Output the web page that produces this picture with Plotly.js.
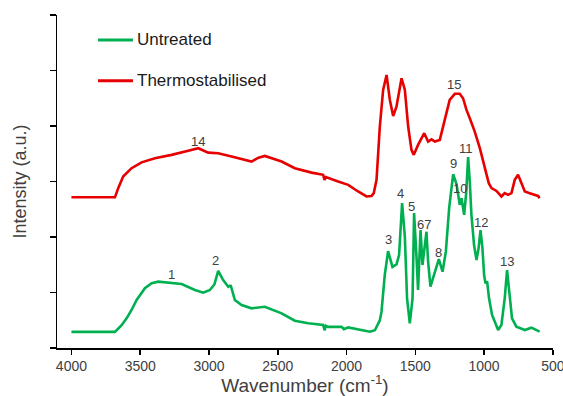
<!DOCTYPE html>
<html>
<head>
<meta charset="utf-8">
<script src="https://cdn.plot.ly/plotly-3.0.1.min.js"></script>
<style>html,body{margin:0;padding:0;background:#fff}#chart{width:563px;height:396px}</style>
</head>
<body>
<div id="chart"></div>
<script>
// Untreated (green) spectrum
const untreatedWn = [4000, 3684, 3635, 3599, 3563, 3526, 3466, 3417, 3369, 3284, 3199, 3102, 3042, 2993, 2960, 2933, 2897, 2860, 2850, 2841, 2812, 2763, 2690, 2594, 2472, 2376, 2279, 2170, 2160, 2150, 2134, 2036, 2020, 1988, 1891, 1830, 1794, 1758, 1746, 1722, 1698, 1666, 1637, 1618, 1596, 1576, 1560, 1540, 1520, 1509, 1491, 1480, 1462, 1448, 1419, 1407, 1390, 1358, 1329, 1302, 1278, 1254, 1225, 1200, 1189, 1177, 1164, 1145, 1130, 1116, 1104, 1092, 1073, 1055, 1040, 1026, 1012, 1000, 990, 978, 964, 942, 922, 898, 874, 850, 833, 818, 797, 765, 704, 656, 620, 596];
const untreatedI  = [0.29, 0.29, 0.41, 0.535, 0.685, 0.865, 1.076, 1.166, 1.195, 1.177, 1.153, 1.045, 0.997, 1.045, 1.15, 1.39, 1.225, 1.105, 1.12, 1.117, 0.865, 0.775, 0.715, 0.744, 0.625, 0.492, 0.445, 0.414, 0.32, 0.40, 0.38, 0.384, 0.34, 0.37, 0.324, 0.294, 0.32, 0.5, 0.65, 1.315, 1.745, 1.46, 1.505, 1.675, 2.61, 2.0, 0.895, 0.445, 0.9, 2.43, 1.62, 1.045, 2.125, 1.495, 2.095, 1.555, 1.105, 1.375, 1.6, 1.375, 1.735, 2.52, 3.13, 2.95, 2.73, 2.58, 2.70, 2.40, 2.8, 3.44, 3.0, 2.40, 1.855, 1.585, 1.8, 2.125, 1.80, 1.315, 1.165, 1.2, 0.895, 0.595, 0.475, 0.324, 0.414, 0.895, 1.405, 1.075, 0.535, 0.384, 0.324, 0.366, 0.324, 0.294];

// Thermostabilised (red) spectrum
const thermoWn = [4000, 3684, 3660, 3624, 3563, 3490, 3393, 3272, 3151, 3078, 3006, 2933, 2836, 2690, 2640, 2594, 2472, 2376, 2254, 2170, 2160, 2150, 2061, 1988, 1916, 1855, 1818, 1802, 1782, 1758, 1734, 1709, 1685, 1661, 1637, 1600, 1576, 1552, 1528, 1511, 1480, 1443, 1435, 1407, 1382, 1358, 1322, 1286, 1250, 1213, 1177, 1153, 1128, 1104, 1068, 1031, 995, 966, 946, 910, 874, 850, 826, 801, 777, 753, 728, 704, 668, 632, 608, 596];
const thermoI  = [2.715, 2.715, 2.88, 3.09, 3.24, 3.345, 3.42, 3.48, 3.555, 3.6, 3.52, 3.51, 3.45, 3.36, 3.43, 3.46, 3.36, 3.24, 3.16, 3.12, 3.03, 3.08, 3.0, 2.94, 2.82, 2.73, 2.74, 2.79, 3.03, 3.99, 4.65, 4.92, 4.47, 4.18, 4.35, 4.86, 4.65, 3.99, 3.57, 3.48, 3.66, 3.84, 3.87, 3.72, 3.76, 3.72, 3.75, 4.11, 4.47, 4.58, 4.58, 4.5, 4.29, 4.14, 3.90, 3.6, 3.27, 2.97, 2.88, 2.83, 2.73, 2.79, 2.76, 2.79, 3.03, 3.12, 2.97, 2.82, 2.79, 2.76, 2.74, 2.70];

// Peak labels
const peakLabels = ["1", "2", "3", "4", "5", "67", "8", "9", "10", "11", "12", "13", "14", "15"];
const peakWn     = [3276, 2956, 1698, 1610, 1531, 1437, 1329, 1225, 1177, 1128, 1024, 833, 3083, 1220];
const peakI      = [1.33, 1.585, 1.95, 2.79, 2.55, 2.23, 1.72, 3.32, 2.88, 3.6, 2.26, 1.555, 3.72, 4.74];

const xTicks = [4000, 3500, 3000, 2500, 2000, 1500, 1000, 500];
const seriesNames = ["Untreated", "Thermostabilised"];
const seriesColors = ["#00B050", "#E60000"];

const font = "Liberation Sans, Arial, sans-serif";
const traces = [
  {x: untreatedWn, y: untreatedI, type: "scatter", mode: "lines", name: seriesNames[0],
   line: {color: seriesColors[0], width: 2.6}, showlegend: false},
  {x: thermoWn, y: thermoI, type: "scatter", mode: "lines", name: seriesNames[1],
   line: {color: seriesColors[1], width: 2.6}, showlegend: false}
];
const annotations = peakLabels.map((t, i) => ({
  x: peakWn[i], y: peakI[i], text: t, showarrow: false,
  font: {family: font, size: 13, color: "#404040"}
}));
// manual legend (paper coordinates)
const legY = [0.925, 0.8027];
const shapes = [];
seriesNames.forEach((n, i) => {
  shapes.push({type: "line", xref: "paper", yref: "paper", x0: 0.0827, x1: 0.1532, y0: legY[i], y1: legY[i],
               line: {color: seriesColors[i], width: 3}});
  annotations.push({xref: "paper", yref: "paper", x: 0.1575, y: legY[i], xanchor: "left", yanchor: "middle",
                    text: n, showarrow: false, font: {family: font, size: 17, color: "#1a1a1a"}});
});
const layout = {
  width: 563, height: 396,
  margin: {l: 57, r: 10, t: 15, b: 48},
  paper_bgcolor: "#fff", plot_bgcolor: "#fff",
  font: {family: font, color: "#404040"},
  showlegend: false,
  xaxis: {range: [4105, 499], tickmode: "array", tickvals: xTicks, ticktext: xTicks.map(String),
          ticklabeloverflow: "allow",
          showgrid: false, zeroline: false, showline: true, linecolor: "#000", linewidth: 1.5,
          ticks: "outside", ticklen: 5, tickcolor: "#000", tickwidth: 1.5,
          tickfont: {family: font, size: 14, color: "#404040"},
          title: {text: "Wavenumber (cm<sup>-1</sup>)", font: {family: font, size: 19, color: "#404040"}, standoff: 2}},
  yaxis: {range: [0, 6], dtick: 1, tick0: 0, showticklabels: false,
          showgrid: false, zeroline: false, showline: true, linecolor: "#000", linewidth: 1.5,
          ticks: "outside", ticklen: 6, tickcolor: "#000", tickwidth: 1.5,
          title: {text: "Intensity (a.u.)", font: {family: font, size: 18, color: "#404040"}, standoff: 18}},
  shapes: shapes,
  annotations: annotations
};
Plotly.newPlot("chart", traces, layout, {displayModeBar: false, staticPlot: true});
</script>
</body>
</html>
